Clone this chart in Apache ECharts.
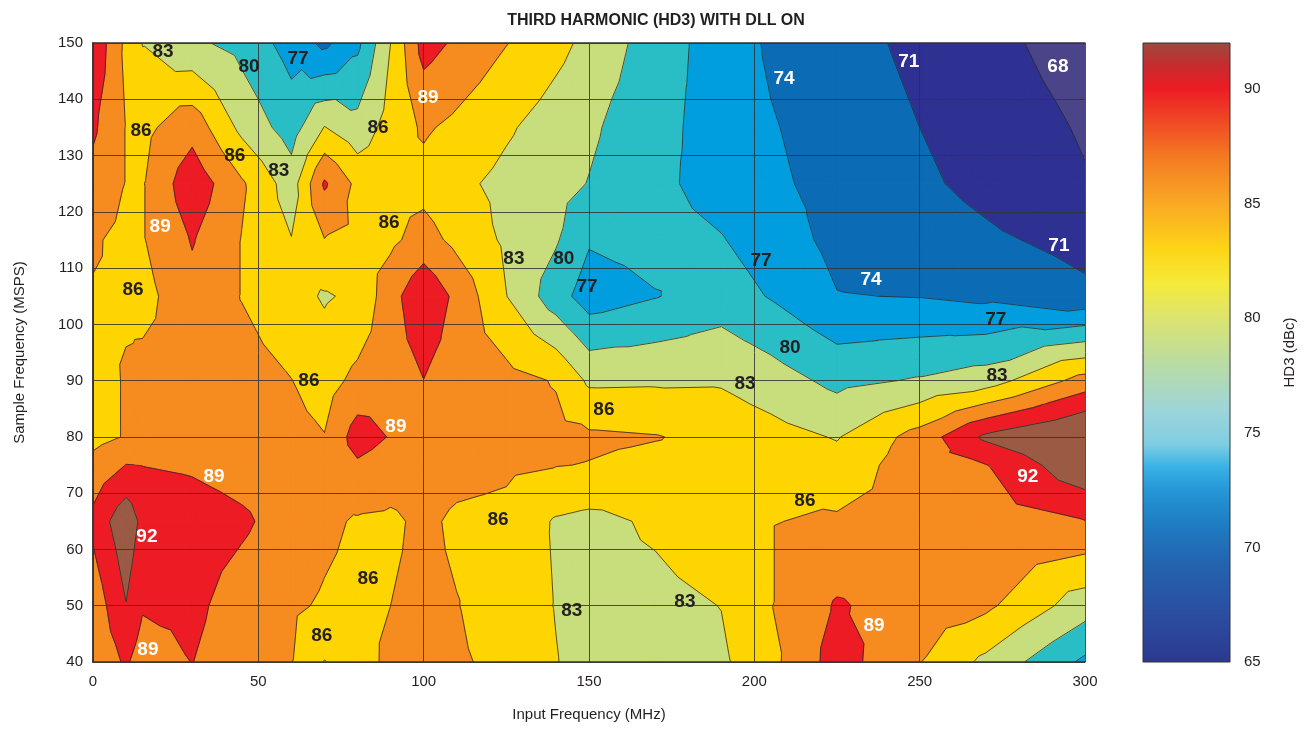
<!DOCTYPE html>
<html>
<head>
<meta charset="utf-8">
<title>Third Harmonic (HD3) with DLL On</title>
<script src="https://cdn.jsdelivr.net/npm/echarts@6/dist/echarts.min.js"></script>
<style>
html, body { margin: 0; padding: 0; background: #fff; }
#chart { width: 1312px; height: 730px; }
</style>
</head>
<body>
<div id="chart"></div>
<script>
// measurement grid: input frequency columns (MHz), sample frequency rows (MSPS)
var inputFreq = [0, 10, 15, 30, 45, 60, 70, 80, 90, 100, 110, 125, 140, 150, 170, 190, 205, 225, 250, 270, 300];
var sampleFreq = [40, 50, 65, 75, 80, 90, 105, 115, 125, 135, 150];

// HD3 (dBc), one array per sample frequency
var hd3At40  = [86.8, 89.4, 87.5, 89.05, 87.3, 86.1, 82.9, 84.5, 86.8, 87.0, 86.4, 85.2, 83.1, 82.0, 81.8, 82.5, 85.2, 90.3, 86.1, 82.3, 76.4];
var hd3At50  = [87.0, 91.9, 89.3, 89.7, 87.6, 86.4, 85.7, 85.2, 86.0, 86.7, 86.1, 84.5, 82.9, 82.0, 82.2, 83.05, 85.9, 89.3, 87.5, 86.6, 81.4];
var hd3At65  = [89.8, 94.2, 91.1, 90.5, 89.5, 87.6, 86.6, 85.7, 85.5, 86.6, 85.5, 85.2, 82.7, 82.2, 83.43, 84.8, 85.9, 86.4, 87.0, 87.5, 88.9];
var hd3At75  = [87.0, 89.05, 88.95, 88.6, 87.8, 87.2, 87.0, 88.56, 87.5, 87.5, 87.0, 86.5, 86.1, 85.9, 85.2, 85.3, 85.5, 84.1, 87.8, 88.9, 94.4];
var hd3At80  = [85.0, 86.2, 87.8, 88.0, 87.5, 86.8, 86.1, 90.4, 88.8, 88.0, 87.5, 87.2, 86.8, 86.5, 86.15, 85.1, 84.1, 82.8, 87.2, 92.6, 96.0];
var hd3At90  = [85.0, 86.2, 87.0, 87.5, 87.2, 86.05, 84.8, 86.8, 87.8, 88.95, 87.5, 87.0, 85.8, 82.5, 82.6, 82.67, 81.4, 79.2, 80.3, 81.5, 87.2];
var hd3At105 = [85.8, 85.7, 85.0, 88.1, 85.9, 84.1, 82.7, 83.6, 87.8, 91.5, 88.25, 83.05, 78.36, 75.5, 76.85, 78.5, 76.8, 74.1, 73.9, 73.3, 71.6];
var hd3At115 = [86.3, 85.3, 85.8, 89.2, 85.9, 83.1, 85.9, 85.4, 85.4, 87.2, 85.2, 82.5, 80.3, 77.3, 78.0, 77.17, 75.5, 73.2, 72.5, 71.5, 70.1];
var hd3At125 = [88.0, 85.9, 85.8, 91.0, 86.4, 81.5, 89.4, 85.2, 85.3, 85.0, 83.7, 82.2, 80.9, 79.9, 77.7, 75.8, 74.5, 73.1, 71.5, 70.2, 68.2];
var hd3At135 = [89.5, 85.9, 85.2, 87.9, 82.2, 78.6, 83.1, 81.05, 84.3, 86.4, 85.3, 83.4, 81.6, 80.5, 77.95, 75.7, 74.2, 72.75, 71.0, 69.7, 67.7];
var hd3At150 = [91.5, 85.3, 82.9, 80.6, 79.0, 75.8, 73.3, 76.3, 83.0, 90.2, 88.5, 86.1, 83.9, 82.2, 78.5, 75.6, 73.6, 72.1, 70.3, 68.9, 66.6];

var contourLevels = [68, 71, 74, 77, 80, 83, 86, 89, 92];
var colorbarTicks = [65, 92];

// contour labels: [input MHz, sample MSPS, text, white?]
var contourLabels = [
    [21.2, 148.4, '83', 0], [47.2, 145.7, '80', 0], [62, 147.2, '77', 0], [101.3, 140.2, '89', 1],
    [209, 143.6, '74', 1], [246.7, 146.6, '71', 1], [291.8, 145.7, '68', 1], [14.5, 134.4, '86', 0],
    [42.9, 129.9, '86', 0], [56.2, 127.3, '83', 0], [86.2, 134.9, '86', 0], [20.3, 117.3, '89', 1],
    [89.5, 118, '86', 0], [127.3, 111.6, '83', 0], [142.4, 111.6, '80', 0], [149.4, 106.6, '77', 0],
    [202, 111.3, '77', 0], [292.1, 113.9, '71', 1], [12.1, 106.1, '86', 0], [235.3, 107.9, '74', 1],
    [273, 100.8, '77', 0], [210.8, 95.8, '80', 0], [65.3, 89.9, '86', 0], [197.2, 89.4, '83', 0],
    [273.4, 90.8, '83', 0], [154.5, 84.8, '86', 0], [91.6, 81.8, '89', 1], [36.6, 72.9, '89', 1],
    [282.7, 72.9, '92', 1], [16.3, 62.2, '92', 1], [122.5, 65.2, '86', 0], [215.3, 68.6, '86', 0],
    [83.2, 54.8, '86', 0], [144.8, 49.1, '83', 0], [179, 50.7, '83', 0], [236.2, 46.4, '89', 1],
    [69.2, 44.6, '86', 0], [16.6, 42.1, '89', 1]
];

var hd3 = [hd3At40, hd3At50, hd3At65, hd3At75, hd3At80, hd3At90, hd3At105, hd3At115, hd3At125, hd3At135, hd3At150];

// band colours, below 68 up to above 92
var bandColors = ['#4b4488', '#2e3192', '#0b6cb5', '#009ddf', '#29bdc5', '#c8dd7b', '#ffd500', '#f68b1f', '#ed1c24', '#9b5a44'];
var fontName = "'Liberation Sans', Arial, sans-serif";
var inkColor = '#231f20';

var cells = [];
for (var j = 0; j < sampleFreq.length - 1; j++) {
    for (var i = 0; i < inputFreq.length - 1; i++) {
        cells.push([inputFreq[i], sampleFreq[j], i, j]);
    }
}

// keep the part of a polygon above (or below) one level
function clipPoly(poly, lvl, keepAbove) {
    var out = [];
    for (var k = 0; k < poly.length; k++) {
        var a = poly[k], b = poly[(k + 1) % poly.length];
        var inA = keepAbove ? a[2] >= lvl : a[2] <= lvl;
        var inB = keepAbove ? b[2] >= lvl : b[2] <= lvl;
        if (inA) out.push(a);
        if (inA !== inB) {
            var t = (lvl - a[2]) / (b[2] - a[2]);
            out.push([a[0] + t * (b[0] - a[0]), a[1] + t * (b[1] - a[1]), lvl]);
        }
    }
    return out;
}

function cellTriangles(i, j) {
    var p00 = [inputFreq[i], sampleFreq[j], hd3[j][i]];
    var p10 = [inputFreq[i + 1], sampleFreq[j], hd3[j][i + 1]];
    var p11 = [inputFreq[i + 1], sampleFreq[j + 1], hd3[j + 1][i + 1]];
    var p01 = [inputFreq[i], sampleFreq[j + 1], hd3[j + 1][i]];
    var c = [(p00[0] + p10[0]) / 2, (p00[1] + p01[1]) / 2, (p00[2] + p10[2] + p11[2] + p01[2]) / 4];
    return [[p00, p10, c], [p10, p11, c], [p11, p01, c], [p01, p00, c]];
}

function renderFill(params, api) {
    var tris = cellTriangles(api.value(2), api.value(3));
    var children = [];
    tris.forEach(function (t) {
        for (var b = 0; b <= contourLevels.length; b++) {
            var poly = t;
            if (b > 0) poly = clipPoly(poly, contourLevels[b - 1], true);
            if (b < contourLevels.length) poly = clipPoly(poly, contourLevels[b], false);
            if (poly.length < 3) continue;
            children.push({
                type: 'polygon',
                shape: { points: poly.map(function (p) { return api.coord([p[0], p[1]]); }) },
                style: { fill: bandColors[b], stroke: bandColors[b], lineWidth: 1.1, lineJoin: 'round' }
            });
        }
    });
    return { type: 'group', children: children };
}

function renderLines(params, api) {
    var tris = cellTriangles(api.value(2), api.value(3));
    var children = [];
    tris.forEach(function (t) {
        contourLevels.forEach(function (lvl) {
            var pts = [];
            for (var e = 0; e < 3; e++) {
                var a = t[e], b = t[(e + 1) % 3];
                if ((a[2] < lvl) !== (b[2] < lvl)) {
                    var k = (lvl - a[2]) / (b[2] - a[2]);
                    pts.push(api.coord([a[0] + k * (b[0] - a[0]), a[1] + k * (b[1] - a[1])]));
                }
            }
            if (pts.length === 2) {
                children.push({
                    type: 'line',
                    shape: { x1: pts[0][0], y1: pts[0][1], x2: pts[1][0], y2: pts[1][1] },
                    style: { stroke: '#2b2b2b', lineWidth: 0.8 }
                });
            }
        });
    });
    return { type: 'group', children: children };
}

function renderLabel(params, api) {
    var p = api.coord([api.value(0), api.value(1)]);
    var lab = contourLabels[params.dataIndex];
    return {
        type: 'text',
        x: p[0], y: p[1],
        style: {
            text: lab[2], fill: lab[3] ? '#ffffff' : inkColor,
            fontSize: 19, fontWeight: 'bold', fontFamily: fontName,
            align: 'center', verticalAlign: 'middle'
        }
    };
}

function renderColorbar(params, api) {
    var lo = api.coord([0, colorbarTicks[0]]);
    var hi = api.coord([1, colorbarTicks[1]]);
    return {
        type: 'rect',
        shape: { x: lo[0], y: hi[1], width: hi[0] - lo[0], height: lo[1] - hi[1] },
        style: {
            fill: new echarts.graphic.LinearGradient(0, 1, 0, 0, [
                { offset: 0.000, color: '#2b3990' },
                { offset: 0.074, color: '#2b4da0' },
                { offset: 0.167, color: '#2266b0' },
                { offset: 0.222, color: '#1f7cc2' },
                { offset: 0.278, color: '#2596d6' },
                { offset: 0.315, color: '#38b2e5' },
                { offset: 0.352, color: '#7fcde3' },
                { offset: 0.407, color: '#9dd5d9' },
                { offset: 0.481, color: '#b9dba4' },
                { offset: 0.556, color: '#dce46e' },
                { offset: 0.611, color: '#f5ea3a' },
                { offset: 0.667, color: '#fdd516' },
                { offset: 0.741, color: '#f9a825' },
                { offset: 0.815, color: '#f47a22' },
                { offset: 0.889, color: '#ef3b26' },
                { offset: 0.926, color: '#ec1c24' },
                { offset: 0.963, color: '#c62b2e' },
                { offset: 1.000, color: '#9c4a3f' }
            ]),
            stroke: '#333', lineWidth: 1
        }
    };
}

var axisText = { fontSize: 15, fontFamily: fontName, color: inkColor };
var frameLine = { show: true, lineStyle: { color: '#333', width: 1.5 } };
var gridLine = { show: true, lineStyle: { color: '#333', width: 1, opacity: 0.85 } };

var chart = echarts.init(document.getElementById('chart'), null, { renderer: 'canvas' });
chart.setOption({
    animation: false,
    backgroundColor: '#ffffff',
    title: {
        text: 'THIRD HARMONIC (HD3) WITH DLL ON',
        left: 'center', top: 8,
        textStyle: { fontSize: 16, fontWeight: 'bold', fontFamily: fontName, color: inkColor }
    },
    grid: [
        { left: 93, right: 227, top: 43, bottom: 68 },
        { left: 1143, right: 82, top: 43, bottom: 68 }
    ],
    xAxis: [
        {
            gridIndex: 0, type: 'value', min: 0, max: 300, interval: 50, z: 5,
            name: 'Input Frequency (MHz)', nameLocation: 'middle', nameGap: 45,
            nameTextStyle: axisText,
            axisLine: frameLine, axisTick: { show: false },
            axisLabel: Object.assign({ margin: 12 }, axisText),
            splitLine: gridLine
        },
        {
            gridIndex: 0, type: 'value', min: 0, max: 300, position: 'top', z: 5,
            axisLine: frameLine, axisTick: { show: false }, axisLabel: { show: false }, splitLine: { show: false }
        },
        { gridIndex: 1, type: 'value', min: 0, max: 1, show: false }
    ],
    yAxis: [
        {
            gridIndex: 0, type: 'value', min: 40, max: 150, interval: 10, z: 5,
            name: 'Sample Frequency (MSPS)', nameLocation: 'middle', nameGap: 66, nameRotate: 90,
            nameTextStyle: axisText,
            axisLine: frameLine, axisTick: { show: false },
            axisLabel: Object.assign({ margin: 10 }, axisText),
            splitLine: gridLine
        },
        {
            gridIndex: 0, type: 'value', min: 40, max: 150, position: 'right', z: 5,
            axisLine: frameLine, axisTick: { show: false }, axisLabel: { show: false }, splitLine: { show: false }
        },
        {
            gridIndex: 1, type: 'value', min: 65, max: 92, interval: 5, position: 'right',
            name: 'HD3 (dBc)', nameLocation: 'middle', nameGap: 52, nameRotate: 90,
            nameTextStyle: axisText,
            axisLine: { show: false }, axisTick: { show: false },
            axisLabel: Object.assign({ margin: 14, showMaxLabel: false }, axisText),
            splitLine: { show: false }
        }
    ],
    series: [
        {
            type: 'custom', xAxisIndex: 0, yAxisIndex: 0, z: 1, clip: true, silent: true,
            renderItem: renderFill, encode: { x: 0, y: 1 }, data: cells
        },
        {
            type: 'custom', xAxisIndex: 0, yAxisIndex: 0, z: 2, clip: true, silent: true,
            renderItem: renderLines, encode: { x: 0, y: 1 }, data: cells
        },
        {
            type: 'custom', xAxisIndex: 0, yAxisIndex: 0, z: 8, clip: true, silent: true,
            renderItem: renderLabel, encode: { x: 0, y: 1 },
            data: contourLabels.map(function (l) { return [l[0], l[1]]; })
        },
        {
            type: 'custom', xAxisIndex: 2, yAxisIndex: 2, z: 2, silent: true,
            renderItem: renderColorbar, encode: { x: 0, y: 1 }, data: [[0, 65]]
        }
    ]
});
</script>
</body>
</html>
